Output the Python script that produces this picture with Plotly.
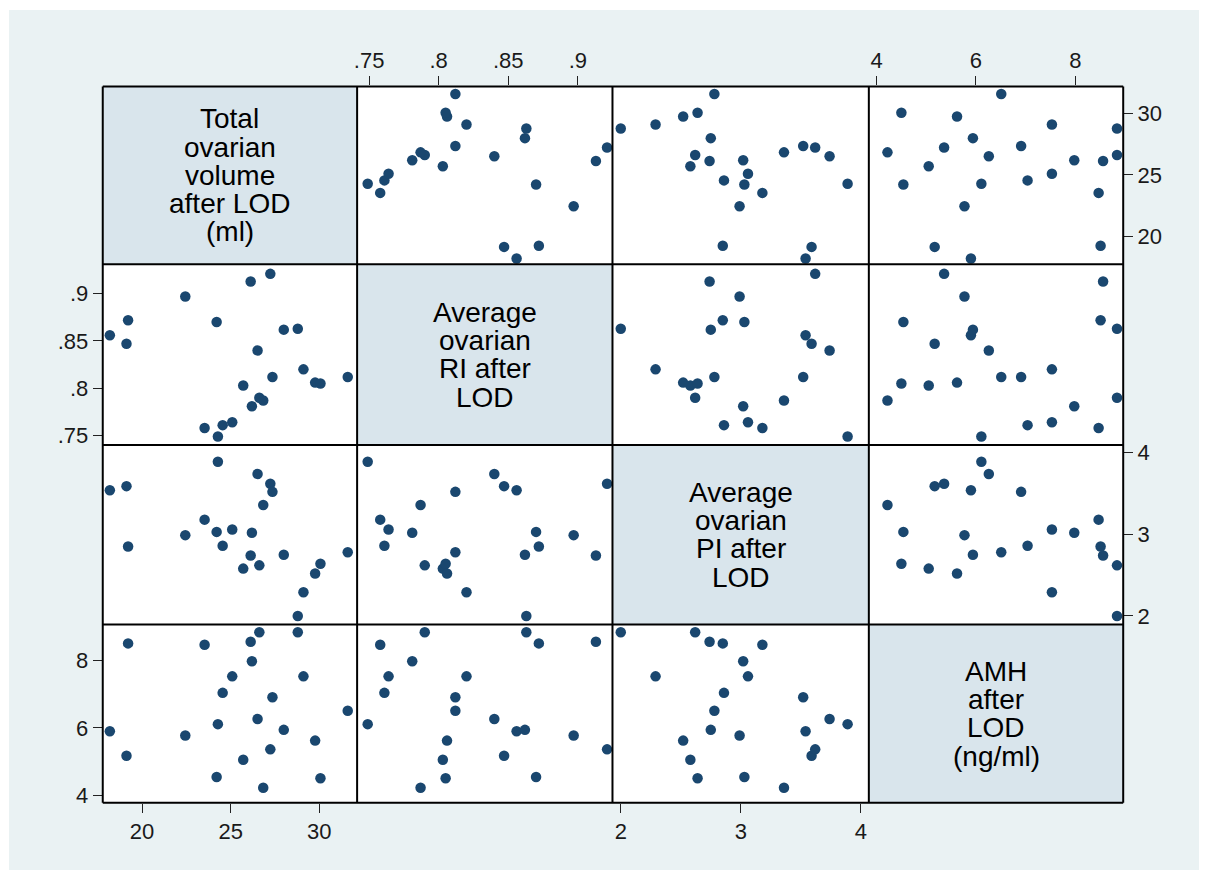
import plotly.graph_objects as go

volume = [18.18, 19.12, 19.21, 22.44, 23.53, 24.21, 24.28, 24.55, 25.09, 25.71, 26.13, 26.20,
          26.52, 26.62, 26.84, 27.24, 27.36, 28.00, 28.79, 29.11, 29.77, 30.07, 31.61]
ri = [0.856, 0.847, 0.872, 0.897, 0.758, 0.870, 0.749, 0.761, 0.764, 0.803, 0.913, 0.781,
      0.840, 0.790, 0.787, 0.921, 0.812, 0.862, 0.863, 0.820, 0.806, 0.805, 0.812]
pi = [3.54, 3.59, 2.85, 2.99, 3.18, 3.03, 3.89, 2.86, 3.06, 2.58, 2.74, 3.02,
      3.74, 2.62, 3.36, 3.62, 3.52, 2.75, 2.00, 2.29, 2.52, 2.64, 2.78]
amh = [5.90, 5.17, 8.51, 5.77, 8.47, 4.54, 6.11, 7.04, 7.53, 5.05, 8.56, 7.98,
       6.26, 8.84, 4.22, 5.36, 6.91, 5.94, 8.84, 7.53, 5.62, 4.50, 6.51]

var_labels = [
    ["Total", "ovarian", "volume", "after LOD", "(ml)"],
    ["Average", "ovarian", "RI after", "LOD"],
    ["Average", "ovarian", "PI after", "LOD"],
    ["AMH", "after", "LOD", "(ng/ml)"],
]
tick_vals = [[20, 25, 30], [0.75, 0.80, 0.85, 0.90], [2, 3, 4], [4, 6, 8]]
tick_text = [["20", "25", "30"], [".75", ".8", ".85", ".9"], ["2", "3", "4"], ["4", "6", "8"]]

data = [volume, ri, pi, amh]

# ---- layout geometry ----
W, H = 1205, 876
col_px = [100, 355, 611, 868, 1123]
row_px = [83.3, 263, 445.5, 627, 807]
x_ranges = [[17.78, 32.14], [0.7414, 0.9249], [1.931, 4.067], [3.845, 8.965]]
y_ranges = [[17.70, 32.22], [0.7401, 0.9311], [1.895, 4.095], [3.774, 9.07]]

NAVY = "#1a476f"
OUTER_BG = "#eaf2f3"
DIAG_BG = "#d9e5ec"
FONT = "Liberation Sans, Arial, sans-serif"
TICK_FONT = dict(size=22, color="#1a1a1a", family=FONT)

fig = go.Figure()
layout = dict(
    width=W, height=H,
    margin=dict(l=0, r=0, t=0, b=0),
    paper_bgcolor="white",
    plot_bgcolor="rgba(0,0,0,0)",
    showlegend=False,
)

shapes = [dict(type="rect", xref="paper", yref="paper",
               x0=6 / W, x1=1199 / W, y0=1 - 875 / H, y1=1 - 6 / H,
               fillcolor=OUTER_BG, line=dict(width=0), layer="below")]
annotations = []

for i in range(4):
    for j in range(4):
        k = i * 4 + j + 1
        xa = "xaxis" if k == 1 else f"xaxis{k}"
        ya = "yaxis" if k == 1 else f"yaxis{k}"
        xref = "x" if k == 1 else f"x{k}"
        yref = "y" if k == 1 else f"y{k}"
        xdom = [col_px[j] / W, col_px[j + 1] / W]
        ydom = [1 - row_px[i + 1] / H, 1 - row_px[i] / H]

        shapes.append(dict(type="rect", xref="paper", yref="paper",
                           x0=xdom[0], x1=xdom[1], y0=ydom[0], y1=ydom[1],
                           fillcolor=DIAG_BG if i == j else "white",
                           line=dict(width=0), layer="below"))

        x_ticks = (j in (0, 2) and i == 3) or (j in (1, 3) and i == 0)
        x_side = "bottom" if j in (0, 2) else "top"
        y_ticks = (i in (0, 2) and j == 3) or (i in (1, 3) and j == 0)
        y_side = "right" if i in (0, 2) else "left"

        layout[xa] = dict(
            domain=xdom, anchor=yref, range=x_ranges[j],
            showgrid=False, zeroline=False, showline=False,
            side=x_side,
            ticks="outside" if x_ticks else "",
            ticklen=9, tickwidth=1.3, tickcolor="#222",
            tickvals=tick_vals[j], ticktext=tick_text[j],
            showticklabels=x_ticks, tickfont=TICK_FONT,
        )
        layout[ya] = dict(
            domain=ydom, anchor=xref, range=y_ranges[i],
            showgrid=False, zeroline=False, showline=False,
            side=y_side,
            ticks="outside" if y_ticks else "",
            ticklen=9, tickwidth=1.3, tickcolor="#222",
            tickvals=tick_vals[i], ticktext=tick_text[i],
            showticklabels=y_ticks, tickfont=TICK_FONT,
        )

        if i == j:
            fig.add_trace(go.Scatter(x=[None], y=[None], mode="markers",
                                     xaxis=xref, yaxis=yref, hoverinfo="skip"))
            lines = var_labels[i]
            n = len(lines)
            for idx, txt in enumerate(lines):
                annotations.append(dict(
                    xref="paper", yref="paper",
                    x=(xdom[0] + xdom[1]) / 2, y=(ydom[0] + ydom[1]) / 2,
                    xanchor="center", yanchor="middle",
                    yshift=((n - 1) / 2 - idx) * 28.3,
                    text=txt, showarrow=False,
                    font=dict(size=28, color="black", family=FONT),
                ))
        else:
            fig.add_trace(go.Scatter(
                x=data[j], y=data[i], mode="markers",
                xaxis=xref, yaxis=yref,
                marker=dict(color=NAVY, size=10.5, symbol="circle",
                            line=dict(width=0)),
                hoverinfo="skip",
            ))

# panel borders
for xp in col_px:
    shapes.append(dict(type="line", xref="paper", yref="paper",
                       x0=xp / W, x1=xp / W, y0=1 - row_px[-1] / H, y1=1 - row_px[0] / H,
                       line=dict(color="black", width=2), layer="above"))
for yp in row_px:
    shapes.append(dict(type="line", xref="paper", yref="paper",
                       x0=col_px[0] / W, x1=col_px[-1] / W, y0=1 - yp / H, y1=1 - yp / H,
                       line=dict(color="black", width=2), layer="above"))

layout["shapes"] = shapes
layout["annotations"] = annotations
fig.update_layout(**layout)
fig.write_html("out.html", config={"displayModeBar": False})

# remove default page margin / inline gaps so the figure fills the window exactly
css = ("<style>html,body{margin:0;padding:0;overflow:hidden;width:1205px;height:876px}"
       "body>div{line-height:0;font-size:0}"
       ".svg-container{vertical-align:top;display:block!important}</style>")
with open("out.html", encoding="utf-8") as f:
    html = f.read()
html = html.replace("<head>", "<head>" + css, 1)
with open("out.html", "w", encoding="utf-8") as f:
    f.write(html)
